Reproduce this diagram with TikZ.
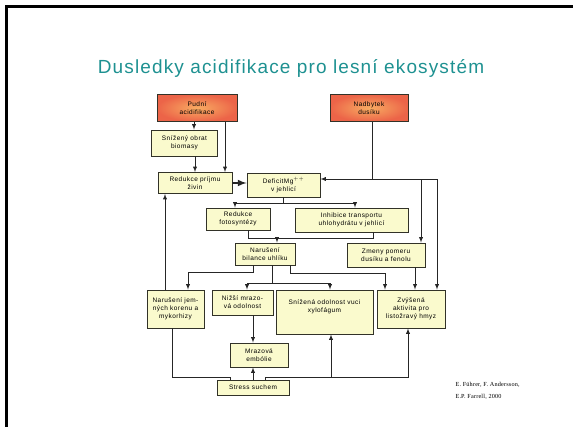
\documentclass[tikz,border=0pt]{standalone}
\usepackage{fontspec}
\setmainfont{Liberation Serif}
\setsansfont{Liberation Sans}
\newfontfamily\boxfont{Liberation Sans}[LetterSpace=7]
\newfontfamily\headfont{Liberation Sans}[LetterSpace=6]
\newfontfamily\citefont{Liberation Serif}[LetterSpace=3]
\usepackage{tikz}
\usetikzlibrary{shadows}

\definecolor{titleteal}{RGB}{30,145,145}
\definecolor{boxfill}{RGB}{250,250,205}
\definecolor{boxline}{RGB}{50,50,40}
\definecolor{acidout}{RGB}{236,100,72}
\definecolor{acidin}{RGB}{248,172,98}

\begin{document}
\begin{tikzpicture}[x=1pt,y=-1pt,>=latex,
		box/.style={draw=boxline,line width=0.9pt,fill=boxfill,align=center,inner sep=1pt,
			font=\boxfont\fontsize{6.5}{8.2}\selectfont,
			drop shadow={shadow xshift=0.9pt,shadow yshift=-0.9pt,fill=black!55,opacity=1}},
		hotbox/.style={box,shading=radial,inner color=acidin,outer color=acidout},
		link/.style={draw=black!85,line width=0.85pt}]
			\useasboundingbox (0,0) rectangle (573,427);
			\draw[line width=3pt] (6,427) -- (6,7) -- (573,7);
			\node[text=titleteal,font=\headfont\fontsize{19}{21}\selectfont] (title) at (291,68) {Dusledky acidifikace pro lesní ekosystém};
			% causes
			\node[hotbox,minimum width=80pt,minimum height=27pt] (pudni) at (197,108) {Pudní\\acidifikace};
			\node[hotbox,minimum width=78pt,minimum height=27pt] (nadbytek) at (369,108) {Nadbytek\\dusíku};
			% first level
			\node[box,minimum width=66pt,minimum height=26pt] (snizeny) at (184.5,143) {Snížený obrat\\biomasy};
			\node[box,minimum width=74pt,minimum height=21pt] (redprijem) at (195,183) {Redukce príjmu\\živin};
			\node[box,minimum width=73pt,minimum height=24pt] (deficit) at (283.5,185) {DeficitMg$^{++}$\\v jehlicí};
			\node[box,minimum width=64pt,minimum height=22pt] (redfoto) at (238,219) {Redukce\\fotosyntézy};
			\node[box,minimum width=113pt,minimum height=24pt] (inhibice) at (351.5,220) {Inhibice transportu\\uhlohydrátu v jehlicí};
			\node[box,minimum width=60pt,minimum height=22pt] (bilance) at (265,254) {Narušení\\bilance uhlíku};
			\node[box,minimum width=78pt,minimum height=24pt] (zmeny) at (386,255) {Zmeny pomeru\\dusíku a fenolu};
			% effects
			\node[box,minimum width=57pt,minimum height=38pt] (jemnych) at (175.5,309) {Narušení jem-\\ných korenu a\\mykorhizy};
			\node[box,minimum width=61pt,minimum height=25pt] (nizsi) at (242.5,302.5) {Nižší mrazo-\\vá odolnost};
			\node[box,minimum width=97pt,minimum height=44pt,text depth=12pt] (snizena) at (324.5,312) {Snížená odolnost vuci\\xylofágum};
			\node[box,minimum width=68pt,minimum height=38pt] (zvysena) at (411,309) {Zvýšená\\aktivita pro\\listožravý hmyz};
			\node[box,minimum width=58pt,minimum height=24pt] (mrazova) at (259,355) {Mrazová\\embólie};
			\node[box,minimum width=72pt,minimum height=15pt] (stress) at (253,387.5) {Stress suchem};
			\node[anchor=west,align=left,font=\citefont\fontsize{6.2}{12}\selectfont] (zdroj) at (452,391) {E. Führer, F. Andersson,\\E.P. Farrell, 2000};
			% connectors from the causes
			\draw[link,->] (194,0 |- pudni.south) -- (194,0 |- snizeny.north);
			\draw[link,->] (225,0 |- pudni.south) -- (225,0 |- redprijem.north);
			\draw[link,->] (195,0 |- snizeny.south) -- (195,0 |- redprijem.north);
			\draw[link,->,line width=2pt] (redprijem.east) -- (redprijem.east -| deficit.west);
			\coordinate (dusik) at (372,179);
			\draw[link,->] (372,0 |- nadbytek.south) |- ([yshift=6pt]deficit.east);
			\draw[link,->] (dusik) -| (421,0 |- zmeny.north);
			\draw[link,->] (dusik) -| (437,0 |- zvysena.north);
			% magnesium and carbon
			\coordinate (mg) at (283.5,203);
			\draw[link] (deficit.south) -- (mg);
			\draw[link,->] (mg) -| (235,0 |- redfoto.north);
			\draw[link,->] (mg) -| (355,0 |- inhibice.north);
			\coordinate (uhlik) at (277,238);
			\draw[link] (248,0 |- redfoto.south) |- (uhlik);
			\draw[link] (373,0 |- inhibice.south) |- (uhlik);
			\draw[link,->] (uhlik) -- (uhlik |- bilance.north);
			\draw[link,->] (253,0 |- bilance.south) |- (188,272) -- (188,0 |- jemnych.north);
			\coordinate (cj) at (272,283);
			\draw[link] (272,0 |- bilance.south) -- (cj);
			\draw[link,->] (cj) -| (247,0 |- nizsi.north);
			\draw[link,->] (cj) -| (330,0 |- snizena.north);
			\draw[link,->] (290,0 |- bilance.south) |- (385,273) -- (385,0 |- zvysena.north);
			\draw[link,->] (415,0 |- zmeny.south) -- (415,0 |- zvysena.north);
			% back to the roots and the drought
			\draw[link,->] (165,0 |- jemnych.north) -- (165,0 |- redprijem.south);
			\draw[link,->] (253,0 |- nizsi.south) -- (253,0 |- mrazova.north);
			\draw[link,->] (253,0 |- stress.north) -- (253,0 |- mrazova.south);
			\coordinate (sucho) at (265,377);
			\draw[link] (265,0 |- stress.north) -- (sucho);
			\draw[link,->] (sucho) -| (331,0 |- snizena.south);
			\draw[link,->] (sucho) -| (408,0 |- zvysena.south);
			\draw[link] (230,0 |- stress.north) |- (172,377) -- (172,0 |- jemnych.south);
		\end{tikzpicture}
\end{document}
